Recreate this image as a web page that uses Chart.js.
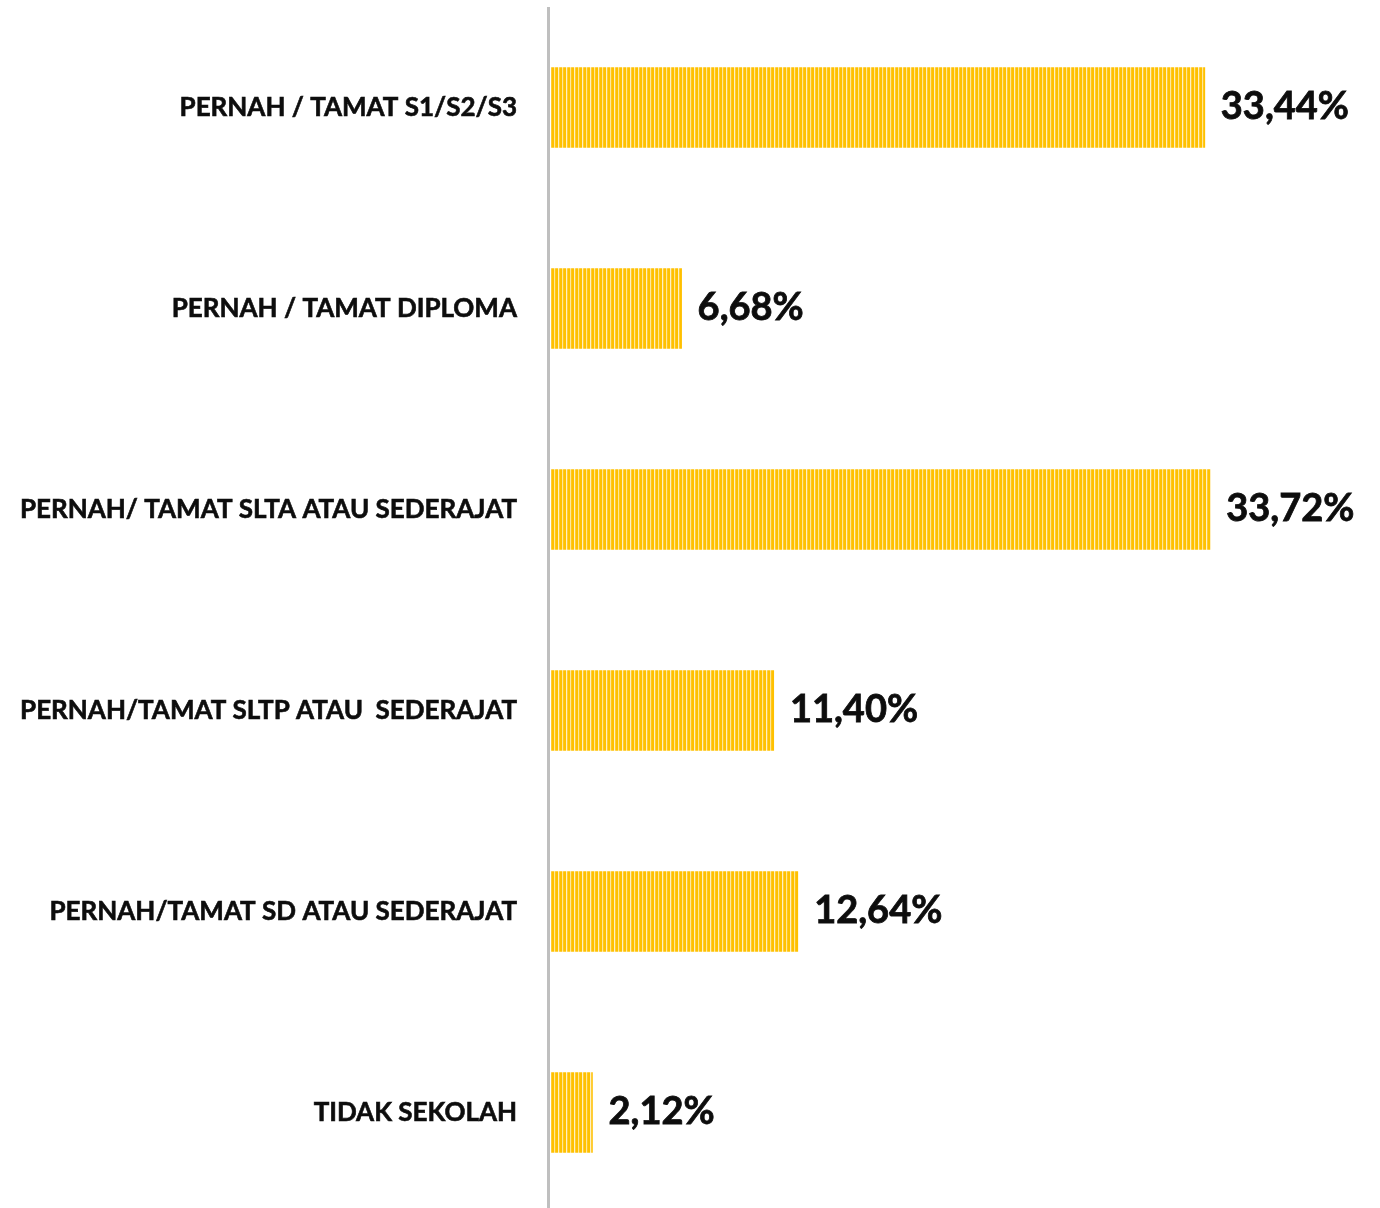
<!DOCTYPE html>
<html>
<head>
<meta charset="utf-8">
<script src="https://cdn.jsdelivr.net/npm/chart.js@4.4.0/dist/chart.umd.min.js"></script>
<style>
  html, body { margin: 0; padding: 0; background: #fff; overflow: hidden; }
  #wrap { position: relative; width: 1380px; height: 1213px; }
</style>
</head>
<body>
<div id="wrap"><canvas id="eduChart"></canvas></div>
<script>
var categories = [
    'PERNAH / TAMAT S1/S2/S3',
    'PERNAH / TAMAT DIPLOMA',
    'PERNAH/ TAMAT SLTA ATAU SEDERAJAT',
    'PERNAH/TAMAT SLTP ATAU  SEDERAJAT',
    'PERNAH/TAMAT SD ATAU SEDERAJAT',
    'TIDAK SEKOLAH'
];
var percentages = [33.44, 6.68, 33.72, 11.40, 12.64, 2.12];

// vertical stripe fill for the bars
function stripeFill() {
    var tile = document.createElement('canvas');
    tile.width = 8;
    tile.height = 4;
    var t = tile.getContext('2d');
    var cols = ['#FFC000', '#FFC000', '#FFE699', '#FFC81A',
                '#FFC000', '#FFC000', '#FFF0C4', '#FFCC33'];
    for (var i = 0; i < cols.length; i++) {
        t.fillStyle = cols[i];
        t.fillRect(i, 0, 1, 4);
    }
    return t.createPattern(tile, 'repeat');
}

var axisLine = {
    id: 'axisLine',
    beforeDatasetsDraw: function(chart) {
        var a = chart.chartArea;
        var c = chart.ctx;
        c.save();
        c.fillStyle = '#bfbfbf';
        c.fillRect(a.left - 4, a.top, 3, a.bottom - a.top);
        c.restore();
    }
};

var valueLabels = {
    id: 'valueLabels',
    afterDatasetsDraw: function(chart) {
        var c = chart.ctx;
        var meta = chart.getDatasetMeta(0);
        c.save();
        c.font = 'bold 38px Lato';
        c.fillStyle = '#0d0d0d';
        c.strokeStyle = '#0d0d0d';
        c.lineWidth = 0.8;
        c.textAlign = 'left';
        c.textBaseline = 'middle';
        meta.data.forEach(function(bar, i) {
            var txt = percentages[i].toFixed(2).replace('.', ',') + '%';
            c.strokeText(txt, bar.x + 16, bar.y - 1);
            c.fillText(txt, bar.x + 16, bar.y - 1);
        });
        c.restore();
    }
};

var ctx = document.getElementById('eduChart').getContext('2d');

var myChart = new Chart(ctx, {
    type: 'bar',
    data: {
        labels: categories,
        datasets: [{
            data: percentages,
            backgroundColor: stripeFill(),
            borderWidth: 0,
            barThickness: 80
        }]
    },
    options: {
        indexAxis: 'y',
        responsive: true,
        maintainAspectRatio: false,
        animation: false,
        layout: { padding: { top: 7, right: 0, bottom: 0, left: 0 } },
        plugins: {
            legend: { display: false },
            tooltip: { enabled: false }
        },
        scales: {
            x: {
                display: false,
                min: 0,
                max: 42.4
            },
            y: {
                afterFit: function(scale) {
                    scale.width = 551;
                    scale.paddingTop = 0;
                    scale.paddingBottom = 0;
                },
                grid: { display: false },
                border: { display: false },
                ticks: {
                    color: '#0d0d0d',
                    textStrokeColor: '#0d0d0d',
                    textStrokeWidth: 0.6,
                    padding: 26,
                    font: { family: 'Lato', weight: 'bold', size: 26 }
                }
            }
        }
    },
    plugins: [axisLine, valueLabels]
});
</script>
</body>
</html>
